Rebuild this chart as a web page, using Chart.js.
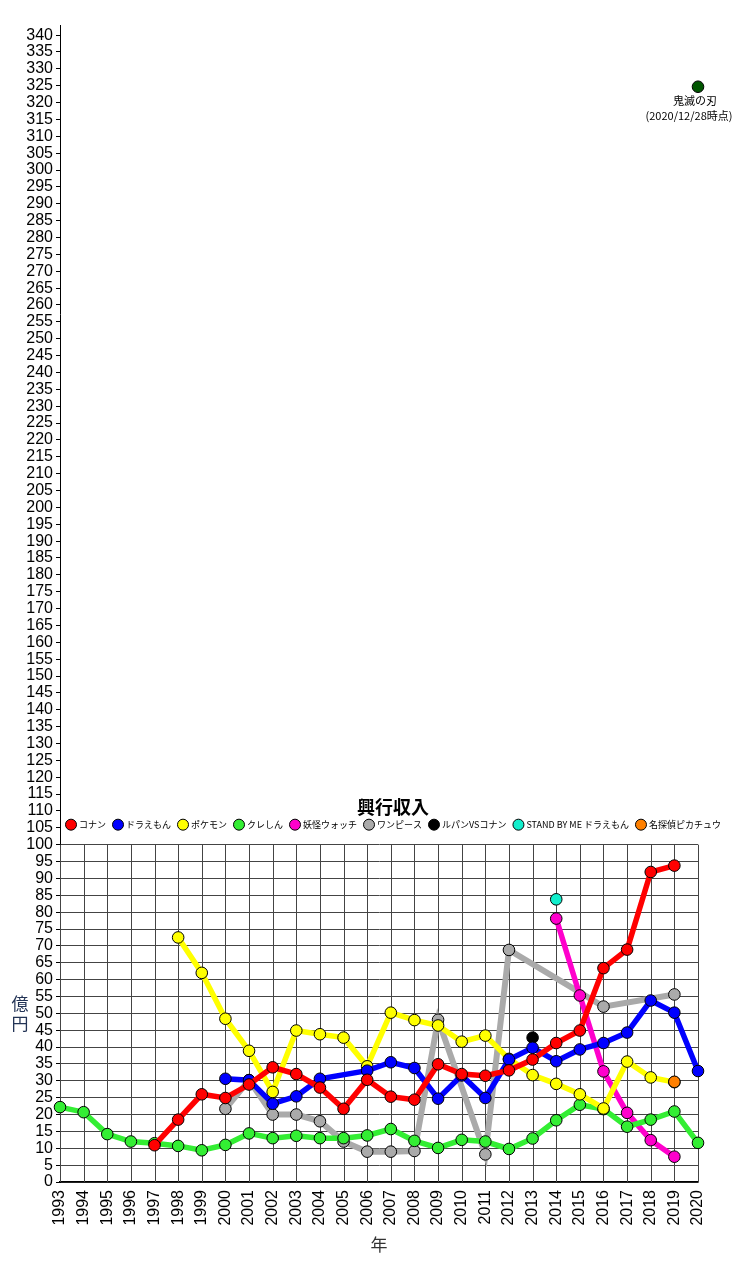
<!DOCTYPE html>
<html lang="ja">
<head>
<meta charset="utf-8">
<title>興行収入</title>
<script src="https://cdn.jsdelivr.net/npm/chart.js@4.4.1/dist/chart.umd.min.js"></script>
<style>
  html, body { margin: 0; padding: 0; background: #fff; }
  #wrap { position: relative; width: 751px; height: 1280px; }
</style>
</head>
<body>
<div id="wrap"><canvas id="boxOfficeChart"></canvas></div>
<script>
// 年 (1993〜2020)
const years = ['1993', '1994', '1995', '1996', '1997', '1998', '1999', '2000', '2001', '2002',
  '2003', '2004', '2005', '2006', '2007', '2008', '2009', '2010', '2011', '2012',
  '2013', '2014', '2015', '2016', '2017', '2018', '2019', '2020'];

// 興行収入 (億円) — 公開なしの年は null
const conan    = [null, null, null, null, 10.9, 18.5, 26.0, 24.9, 28.9, 34.0, 32.0, 28.0, 21.7, 30.3,
                  25.3, 24.4, 34.9, 32.0, 31.5, 33.1, 36.3, 41.2, 44.9, 63.4, 68.9, 91.9, 93.8, null];
const doraemon = [null, null, null, null, null, null, null, 30.6, 30.2, 23.2, 25.4, 30.6, null, 33.0,
                  35.5, 33.8, 24.7, 31.6, 24.9, 36.3, 39.8, 35.8, 39.3, 41.2, 44.3, 53.8, 50.2, 32.9];
const pokemon  = [null, null, null, null, null, 72.5, 62.0, 48.4, 38.9, 26.7, 44.9, 43.8, 42.8, 34.3,
                  50.2, 48.0, 46.4, 41.6, 43.4, 36.5, 31.7, 29.1, 26.0, 21.8, 35.7, 31.0, 29.6, null];
const crayon   = [22.2, 20.7, 14.2, 12.0, 11.5, 10.7, 9.4, 11.0, 14.4, 13.0, 13.7, 13.0, 13.0, 13.8,
                  15.7, 12.2, 10.1, 12.5, 12.0, 9.8, 12.9, 18.3, 22.9, 21.6, 16.4, 18.5, 20.9, 11.6];
const yokai    = [null, null, null, null, null, null, null, null, null, null, null, null, null, null,
                  null, null, null, null, null, null, null, 78.1, 55.3, 32.8, 20.5, 12.4, 7.5, null];
const onepiece = [null, null, null, null, null, null, null, 21.7, 30.2, 20.0, 20.0, 18.0, 12.0, 9.0,
                  9.0, 9.2, 48.1, null, 8.2, 68.8, null, null, null, 52.0, null, null, 55.6, null];
const lupinVsConan = [null, null, null, null, null, null, null, null, null, null, null, null, null, null,
                  null, null, null, null, null, null, 42.8, null, null, null, null, null, null, null];
const standByMe = [null, null, null, null, null, null, null, null, null, null, null, null, null, null,
                  null, null, null, null, null, null, null, 83.8, null, null, null, null, null, null];
const detectivePikachu = [null, null, null, null, null, null, null, null, null, null, null, null, null, null,
                  null, null, null, null, null, null, null, null, null, null, null, null, 29.7, null];
const kimetsu  = [null, null, null, null, null, null, null, null, null, null, null, null, null, null,
                  null, null, null, null, null, null, null, null, null, null, null, null, null, 324.7];

const titleText = '興行収入';
const kimetsuNote = ['鬼滅の刃', '(2020/12/28時点)'];

const gridMax = 100;       // グリッドを描く範囲の上限
const gridColor = '#444';
const jpFont = '"Noto Sans CJK JP", "Noto Sans", sans-serif';

function series(label, data, color, extra = {}) {
    return {
        label, data,
        borderColor: color,
        backgroundColor: color,
        pointBackgroundColor: color,
        pointBorderColor: '#000',
        pointBorderWidth: 1,
        pointRadius: 5.8,
        borderWidth: 5.5,
        spanGaps: true,
        tension: 0,
        clip: false,
        inLegend: true,
        ...extra
    };
}

// 0〜100 の範囲だけに縦グリッドを描く
const partialGrid = {
    id: 'partialGrid',
    beforeDatasetsDraw(chart) {
        const { ctx, scales: { x, y } } = chart;
        const top = y.getPixelForValue(gridMax);
        const bottom = y.getPixelForValue(0);
        ctx.save();
        ctx.strokeStyle = gridColor;
        ctx.lineWidth = 1;
        years.forEach((_, i) => {
            const px = Math.round(x.getPixelForValue(i)) + 0.5;
            ctx.beginPath();
            ctx.moveTo(px, top);
            ctx.lineTo(px, bottom);
            ctx.stroke();
        });
        ctx.restore();
    }
};

// タイトル・凡例・軸タイトル・注記
const overlayText = {
    id: 'overlayText',
    afterDraw(chart) {
        const { ctx, chartArea, scales: { y } } = chart;
        ctx.save();

        // 凡例
        const rowY = y.getPixelForValue(gridMax) - 20;
        const startX = chartArea.left + 5;
        let cx = startX;
        ctx.font = '9px ' + jpFont;
        ctx.textBaseline = 'middle';
        ctx.textAlign = 'left';
        chart.data.datasets.filter(d => d.inLegend).forEach(d => {
            ctx.beginPath();
            ctx.arc(cx + 6, rowY, 5.5, 0, Math.PI * 2);
            ctx.fillStyle = d.pointBackgroundColor;
            ctx.fill();
            ctx.lineWidth = 1;
            ctx.strokeStyle = '#000';
            ctx.stroke();
            ctx.fillStyle = '#000';
            ctx.fillText(d.label, cx + 14, rowY);
            cx += 14 + ctx.measureText(d.label).width + 6;
        });

        // タイトル (凡例の中央)
        ctx.font = 'bold 18px ' + jpFont;
        ctx.textAlign = 'center';
        ctx.fillText(titleText, (startX + cx - 6) / 2, rowY - 18);

        // 縦軸タイトル (縦書き)
        ctx.font = '17px ' + jpFont;
        ctx.fillStyle = '#223355';
        const ay = y.getPixelForValue(50);
        ctx.fillText('億', 20, ay - 10);
        ctx.fillText('円', 20, ay + 10);

        // 鬼滅の刃の注記
        const meta = chart.getDatasetMeta(chart.data.datasets.length - 1);
        const pt = meta.data[years.length - 1];
        if (pt) {
            ctx.font = '11px ' + jpFont;
            ctx.fillStyle = '#000';
            ctx.fillText(kimetsuNote[0], pt.x - 3, pt.y + 14);
            ctx.fillText(kimetsuNote[1], pt.x - 9, pt.y + 29);
        }
        ctx.restore();
    }
};

new Chart(document.getElementById('boxOfficeChart'), {
    type: 'line',
    data: {
        labels: years,
        datasets: [
            series('コナン', conan, '#ff0000'),
            series('ドラえもん', doraemon, '#0000ff'),
            series('ポケモン', pokemon, '#ffff00'),
            series('クレしん', crayon, '#33ee33'),
            series('妖怪ウォッチ', yokai, '#ff00cc'),
            series('ワンピース', onepiece, '#aaaaaa', { borderWidth: 6 }),
            series('ルパンVSコナン', lupinVsConan, '#000000'),
            series('STAND BY ME ドラえもん', standByMe, '#11eecc'),
            series('名探偵ピカチュウ', detectivePikachu, '#ff8000', { order: -1 }),
            series('鬼滅の刃', kimetsu, '#005500', { showLine: false, inLegend: false })
        ]
    },
    options: {
        responsive: true,
        maintainAspectRatio: false,
        animation: false,
        layout: { padding: { top: 25, right: 53, bottom: 0, left: 0 } },
        plugins: {
            legend: { display: false },
            title: { display: false },
            tooltip: { enabled: false }
        },
        scales: {
            x: {
                type: 'category',
                offset: false,
                grid: { display: true, drawOnChartArea: false, drawTicks: false },
                border: { display: true, color: '#000', width: 1.5 },
                ticks: {
                    autoSkip: false,
                    maxRotation: 90,
                    minRotation: 90,
                    padding: 8,
                    color: '#000',
                    font: { family: '"Liberation Sans", Arial, sans-serif', size: 16 }
                },
                title: {
                    display: true,
                    text: '年',
                    color: '#333',
                    font: { family: jpFont, size: 17 },
                    padding: { top: 0, bottom: 25 }
                },
                afterFit(scale) { scale.height = 98; }
            },
            y: {
                type: 'linear',
                min: 0,
                max: 343,
                grid: {
                    color: c => (c.tick && c.tick.value <= gridMax) ? gridColor : 'rgba(0,0,0,0)',
                    tickColor: '#000',
                    lineWidth: 1,
                    drawTicks: true,
                    tickLength: 4
                },
                border: { display: true, color: '#000', width: 1 },
                ticks: {
                    stepSize: 5,
                    includeBounds: false,
                    autoSkip: false,
                    padding: 3,
                    color: '#000',
                    font: { family: '"Liberation Sans", Arial, sans-serif', size: 16 }
                },
                afterFit(scale) { scale.width = 60; }
            }
        }
    },
    plugins: [partialGrid, overlayText]
});
</script>
</body>
</html>
